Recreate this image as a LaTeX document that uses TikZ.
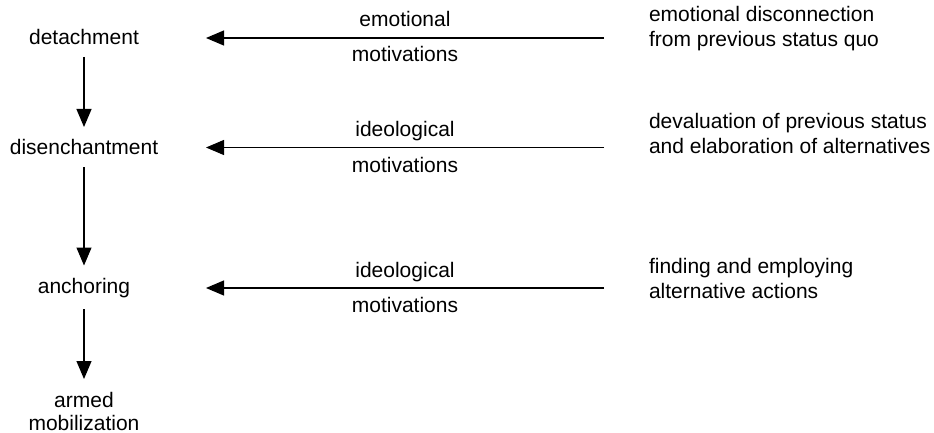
\documentclass[tikz,border=0pt]{standalone}
\usepackage{fontspec}
\setmainfont{Liberation Sans}
\usetikzlibrary{arrows.meta}
\begin{document}
\begin{tikzpicture}[x=1pt,y=-1pt,
  every node/.style={inner sep=0pt,outer sep=0pt,font=\fontsize{21}{25}\selectfont},
  stage/.style={anchor=base,text height=16pt,text depth=5pt},
  desc/.style={anchor=base west,align=left},
  lab/.style={anchor=base},
  arr/.style={line width=1.1pt,-{Triangle[length=18pt,width=15pt]}}]
\useasboundingbox (0,0) rectangle (934,433);
% stages
\node[stage] (n1) at (84,45) {detachment};
\node[stage] (n2) at (84,154) {disenchantment};
\node[stage] (n3) at (84,293) {anchoring};
\node[anchor=base,align=center,font=\fontsize{21}{23.7}\selectfont] (n4) at (84,430.7) {armed\\mobilization};
% vertical arrows
\draw[arr,shorten <=7pt,shorten >=11pt] (n1.south) -- (n2.north);
\draw[arr,shorten <=8pt,shorten >=11.5pt] (n2.south) -- (n3.north);
\draw[arr,shorten <=11pt] (n3.south) -- (n4.north |- 0,379) coordinate (t4);
% descriptions
\node[desc] (r1) at (649,46.7) {emotional disconnection\\from previous status quo};
\node[desc] (r2) at (649,153.3) {devaluation of previous status\\and elaboration of alternatives};
\node[desc] (r3) at (649,298) {finding and employing\\alternative actions};
% horizontal arrows
\coordinate (s1) at (604,38);
\coordinate (e1) at (206,38);
\coordinate (s2) at (604,147.5);
\coordinate (e2) at (206,147.5);
\coordinate (s3) at (604,288);
\coordinate (e3) at (206,288);
\draw[arr] (s1) -- node[lab,yshift=11pt] (l1a) {emotional} node[lab,yshift=-24pt] (l1b) {motivations} (e1);
\draw[arr] (s2) -- node[lab,yshift=10.5pt] (l2a) {ideological} node[lab,yshift=-24.5pt] (l2b) {motivations} (e2);
\draw[arr] (s3) -- node[lab,yshift=11pt] (l3a) {ideological} node[lab,yshift=-24pt] (l3b) {motivations} (e3);
\end{tikzpicture}
\end{document}
